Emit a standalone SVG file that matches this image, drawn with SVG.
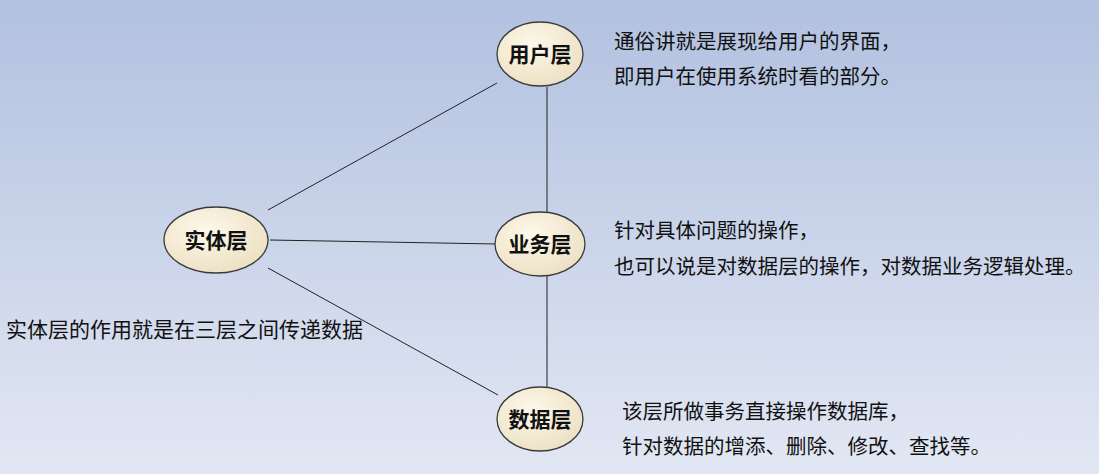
<svg xmlns="http://www.w3.org/2000/svg" width="1099" height="474" viewBox="0 0 1099 474">
<defs>
<linearGradient id="bg" x1="0" y1="0" x2="0" y2="1"><stop offset="0" stop-color="#b2c1e0"/><stop offset="1" stop-color="#e2e7f3"/></linearGradient>
<radialGradient id="nf" cx="0.4" cy="0.35" r="0.7"><stop offset="0" stop-color="#fdf8ea"/><stop offset="1" stop-color="#ece0c2"/></radialGradient>
</defs>
<style>
.n ellipse{fill:url(#nf);stroke:#3a3a3a;stroke-width:1.3}
.n text{font-family:"Noto Sans CJK SC",sans-serif;font-size:21px;font-weight:bold;text-anchor:middle;fill:#111}
.t{font-family:"Noto Sans CJK SC",sans-serif;font-size:20.5px;fill:#111}
#edges line{stroke:#222;stroke-width:1}
</style>
<rect width="1099" height="474" fill="url(#bg)"/>
<g id="edges">
<line x1="268" y1="210" x2="497" y2="83"/>
<line x1="547" y1="87" x2="547" y2="212"/>
<line x1="270" y1="240" x2="496" y2="244"/>
<line x1="547" y1="275" x2="547" y2="387"/>
<line x1="268" y1="268" x2="498" y2="395"/>
</g>
<g id="user" class="n"><ellipse cx="540" cy="54" rx="43" ry="32"/><text x="540" y="62">用户层</text></g>
<g id="biz" class="n"><ellipse cx="540" cy="244" rx="45" ry="32"/><text x="540" y="252">业务层</text></g>
<g id="data" class="n"><ellipse cx="540" cy="419" rx="43" ry="32"/><text x="540" y="427">数据层</text></g>
<g id="entity" class="n"><ellipse cx="216" cy="240" rx="52" ry="33"/><text x="216" y="248">实体层</text></g>
<text class="t" x="614" y="49">通俗讲就是展现给用户的界面，</text>
<text class="t" x="614" y="84">即用户在使用系统时看的部分。</text>
<text class="t" x="614" y="238">针对具体问题的操作，</text>
<text class="t" x="614" y="274">也可以说是对数据层的操作，对数据业务逻辑处理。</text>
<text class="t" x="622" y="419">该层所做事务直接操作数据库，</text>
<text class="t" x="622" y="454">针对数据的增添、删除、修改、查找等。</text>
<text class="t" x="6" y="337" style="font-size:21px">实体层的作用就是在三层之间传递数据</text>
</svg>
